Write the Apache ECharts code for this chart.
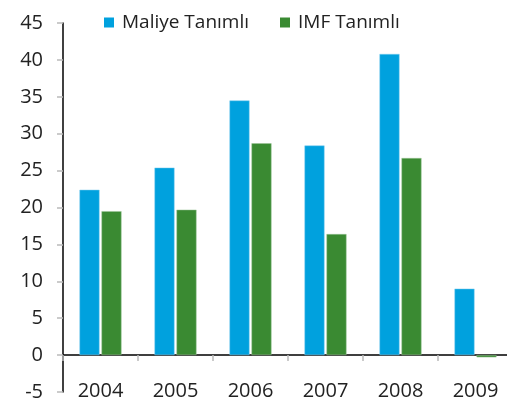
<!DOCTYPE html>
<html>
<head>
<meta charset="utf-8">
<script src="https://cdn.jsdelivr.net/npm/echarts@6/dist/echarts.min.js"></script>
<style>html,body{margin:0;padding:0;background:#fff;}#c{width:507px;height:401px;}</style>
</head>
<body>
<div id="c"></div>
<script>
const categories = ['2004', '2005', '2006', '2007', '2008', '2009'];
const maliye = [22.4, 25.4, 34.5, 28.4, 40.8, 9.0];
const imf = [19.5, 19.7, 28.7, 16.4, 26.7, -0.3];
const seriesNames = ['Maliye Tanımlı', 'IMF Tanımlı'];

const FONT = 'Open Sans';
const chart = echarts.init(document.getElementById('c'));
chart.setOption({
  animation: false,
  textStyle: { fontFamily: FONT },
  legend: {
    left: 104, top: 13, padding: 0,
    itemWidth: 10, itemHeight: 10, itemGap: 31,
    icon: 'rect',
    itemStyle: { borderWidth: 0 },
    textStyle: { fontFamily: FONT, fontSize: 19, color: '#222', padding: [0, 0, 0, 3] },
    data: seriesNames
  },
  grid: { left: 63, right: -6, top: 23, bottom: 9, containLabel: false, outerBoundsMode: 'none' },
  xAxis: {
    type: 'category', data: categories,
    axisLine: { onZero: true, lineStyle: { color: '#000', width: 1.5 } },
    axisTick: { show: true, length: 6, interval: 0, lineStyle: { color: '#bbb', width: 1.5 } },
    axisLabel: { margin: -11, fontSize: 20, color: '#222', fontFamily: FONT }
  },
  yAxis: {
    type: 'value', min: -5, max: 45, interval: 5,
    axisLine: { show: true, lineStyle: { color: '#000', width: 1.5 } },
    axisTick: { show: true, length: 6, lineStyle: { color: '#bbb', width: 1.5 } },
    splitLine: { show: false },
    axisLabel: { margin: 20, fontSize: 20, color: '#222', fontFamily: FONT }
  },
  series: [
    { name: seriesNames[0], type: 'bar', data: maliye, barWidth: 20, barGap: '10%',
      itemStyle: { color: '#00A1DE', borderColor: '#7fcdee', borderWidth: 0.5 } },
    { name: seriesNames[1], type: 'bar', data: imf, barWidth: 20, barGap: '10%',
      itemStyle: { color: '#3A8A32', borderColor: '#9cc498', borderWidth: 0.5 } }
  ]
});
</script>
</body>
</html>
